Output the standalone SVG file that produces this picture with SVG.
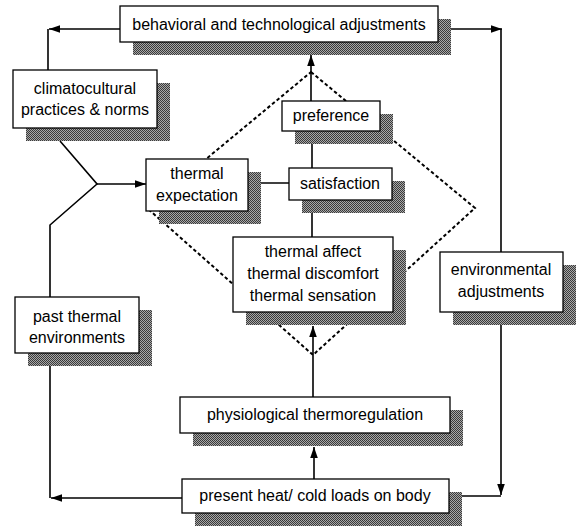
<svg xmlns="http://www.w3.org/2000/svg" width="578" height="528" viewBox="0 0 578 528">
<defs>
<pattern id="ht" width="2" height="2" patternUnits="userSpaceOnUse">
<rect width="2" height="2" fill="#a8a8a8"/>
<rect width="1" height="1" fill="#3a3a3a"/>
<rect x="1" y="1" width="1" height="1" fill="#3a3a3a"/>
</pattern>
<marker id="ah" markerWidth="12" markerHeight="10" refX="11" refY="5" orient="auto" markerUnits="userSpaceOnUse">
<path d="M0,1.2 L11,5 L0,8.8 Z" fill="#000"/>
</marker>
</defs>
<style>
.sh{fill:url(#ht);}
.bx{fill:#fff;stroke:#000;stroke-width:1.3;}
.t{font-family:"Liberation Sans",Arial,sans-serif;font-size:16px;fill:#000;text-anchor:middle;}
.ln{fill:none;stroke:#000;stroke-width:1.6;}
.ar{fill:none;stroke:#000;stroke-width:1.6;marker-end:url(#ah);}
.ds{fill:none;stroke:#000;stroke-width:2;stroke-dasharray:3.5 2.5;}
</style>
<rect width="578" height="528" fill="#fff"/>
<g id="connectors">
<polygon class="ds" points="311,72 475,208 313,355 147,208"/>
<line class="ar" x1="120" y1="29" x2="49" y2="29"/>
<line class="ln" x1="48" y1="29" x2="48" y2="70"/>
<line class="ar" x1="451" y1="29" x2="502" y2="29"/>
<line class="ln" x1="501" y1="29" x2="501" y2="252"/>
<line class="ar" x1="501" y1="325" x2="501" y2="495"/>
<line class="ln" x1="462" y1="496" x2="501" y2="496"/>
<line class="ar" x1="182" y1="498" x2="51" y2="498"/>
<line class="ln" x1="50" y1="498" x2="50" y2="366"/>
<polyline class="ln" points="50,297 50,225 97,184 60,141"/>
<line class="ar" x1="97" y1="184" x2="146" y2="184"/>
<line class="ar" x1="311" y1="102" x2="311" y2="55"/>
<line class="ln" x1="312" y1="132" x2="312" y2="168"/>
<line class="ln" x1="248" y1="183" x2="289" y2="183"/>
<line class="ln" x1="312" y1="200" x2="312" y2="237"/>
<line class="ar" x1="313" y1="397" x2="313" y2="326"/>
<line class="ar" x1="314" y1="479" x2="314" y2="447"/>
</g>
<g id="behavioral">
<rect class="sh" x="133" y="19" width="318" height="36"/>
<rect class="bx" x="120" y="6" width="318" height="36"/>
<text class="t" x="279" y="30">behavioral and technological adjustments</text>
</g>
<g id="climatocultural">
<rect class="sh" x="26" y="83" width="144" height="58"/>
<rect class="bx" x="13" y="70" width="144" height="58"/>
<text class="t" x="85" y="94">climatocultural</text>
<text class="t" x="85" y="115">practices &amp; norms</text>
</g>
<g id="preference">
<rect class="sh" x="295" y="114" width="98" height="30"/>
<rect class="bx" x="282" y="101" width="98" height="30"/>
<text class="t" x="331" y="121">preference</text>
</g>
<g id="expectation">
<rect class="sh" x="159" y="172" width="102" height="52"/>
<rect class="bx" x="146" y="159" width="102" height="52"/>
<text class="t" x="197" y="179">thermal</text>
<text class="t" x="197" y="201">expectation</text>
</g>
<g id="satisfaction">
<rect class="sh" x="302" y="181" width="103" height="32"/>
<rect class="bx" x="289" y="168" width="103" height="32"/>
<text class="t" x="340" y="189">satisfaction</text>
</g>
<g id="affect">
<rect class="sh" x="246" y="250" width="160" height="75"/>
<rect class="bx" x="233" y="237" width="160" height="75"/>
<text class="t" x="313" y="257">thermal affect</text>
<text class="t" x="313" y="279">thermal discomfort</text>
<text class="t" x="313" y="301">thermal sensation</text>
</g>
<g id="environmental">
<rect class="sh" x="453" y="265" width="123" height="60"/>
<rect class="bx" x="440" y="252" width="123" height="60"/>
<text class="t" x="501" y="275">environmental</text>
<text class="t" x="501" y="297">adjustments</text>
</g>
<g id="past">
<rect class="sh" x="28" y="310" width="124" height="56"/>
<rect class="bx" x="15" y="297" width="124" height="56"/>
<text class="t" x="77" y="322">past thermal</text>
<text class="t" x="77" y="343">environments</text>
</g>
<g id="physiological">
<rect class="sh" x="193" y="410" width="270" height="36"/>
<rect class="bx" x="180" y="397" width="270" height="36"/>
<text class="t" x="315" y="420">physiological thermoregulation</text>
</g>
<g id="present">
<rect class="sh" x="195" y="492" width="267" height="34"/>
<rect class="bx" x="182" y="479" width="267" height="34"/>
<text class="t" x="315" y="501">present heat/ cold loads on body</text>
</g>
</svg>
